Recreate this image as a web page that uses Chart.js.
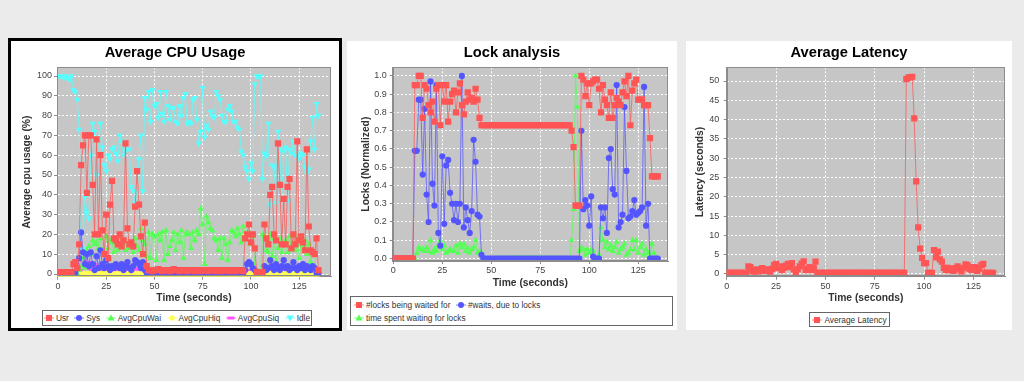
<!DOCTYPE html>
<html><head><meta charset="utf-8">
<script src="https://cdn.jsdelivr.net/npm/chart.js@4.4.1/dist/chart.umd.min.js"></script>
<style>
html,body{margin:0;padding:0;}
body{width:1024px;height:381px;background:#ebebeb;position:relative;overflow:hidden;font-family:'Liberation Sans',Arial,sans-serif;}
.panel{position:absolute;background:#fff;box-sizing:border-box;}
canvas{position:absolute;}
.legend{position:absolute;box-sizing:border-box;border:1px solid #666;background:#fff;font-size:8.3px;color:#333;}
.legend .row{display:flex;align-items:center;height:13.5px;}
.legend .item{display:flex;align-items:center;white-space:nowrap;margin-right:5.5px;}
.legend .item:last-child{margin-right:0;}
.legend svg{margin-right:2px;display:block;}
</style></head><body>
<div class="panel" style="left:8px;top:38px;width:334px;height:293px;border:3px solid #000;"></div>
<div class="panel" style="left:347px;top:41px;width:330px;height:289px;"></div>
<div class="panel" style="left:686px;top:41px;width:326px;height:289px;"></div>
<canvas id="cpu" width="328" height="264" style="left:11px;top:41px;width:328px;height:264px;"></canvas>
<canvas id="lock" width="328" height="253" style="left:348px;top:41px;width:328px;height:253px;"></canvas>
<canvas id="lat" width="324" height="264" style="left:687px;top:41px;width:324px;height:264px;"></canvas>
<div id="legCpu" class="legend" style="left:42px;top:310px;width:270px;height:16px;"></div>
<div id="legLock" class="legend" style="left:350px;top:296px;width:323px;height:30px;padding:1px 0 0 3px;"></div>
<div id="legLat" class="legend" style="left:809px;top:312px;width:81px;height:15px;"></div>
<script>
// ---------------- DATA ----------------
const timeSec = [0,1,2,3,4,5,6,7,8,9,10,11,12,13,14,15,16,17,18,19,20,21,22,23,24,25,26,27,28,29,30,31,32,33,34,35,36,37,38,39,40,41,42,43,44,45,46,47,48,49,50,51,52,53,54,55,56,57,58,59,60,61,62,63,64,65,66,67,68,69,70,71,72,73,74,75,76,77,78,79,80,81,82,83,84,85,86,87,88,89,90,91,92,93,94,95,96,97,98,99,100,101,102,103,104,105,106,107,108,109,110,111,112,113,114,115,116,117,118,119,120,121,122,123,124,125,126,127,128,129,130,131,132,133,134,135];
const timeTicks = [0,25,50,75,100,125];

// Average CPU Usage (%)
const cpuSeriesNames = ['Usr','Sys','AvgCpuWai','AvgCpuHiq','AvgCpuSiq','Idle'];
const cpuUsr = [1,1,1,1,1,1,1,1,
 5,6,3,15,55,65,70,41,70,70,45,20,68,20,60,22,10,30,8,35,47,18,17,15,20,14,17,66,23,15,16,14,34,52,35,19,10,26,4,
 2,2,1.5,2,2,2.5,2,1.5,2,2, 2,1.5,2,2.5,2,2,1.5,2,2,2, 1.5,2,2,2,1.5,2,2,1.5,2,2, 2,1.5,2,2,2,1.5,2,2,1.5,2, 2,2,1.5,2,2,1.5,2,2,2,1.5,
 18,20,25,16,20,13,1,1,1,1,25,18,15,40,44,20,17,66,45,15,38,15,44,48,13,20,15,67,17,19,16,12,63,24,12,11,10,18,2];
const cpuSys = [0.5,0.5,0.5,0.5,0.5,0.5,0.5,0.5,0.5,0.5,
 3,8,21,11,5,10,4,11,5,2, 9,3,12,5,3,7,4,2,4,3, 5,4,3,5,2,4,6,3,2,4, 7,6,5,3,6,2,
 0.5,0.5,0.5,0.5,0.5,0.5,0.5,0.5,0.5,0.5, 0.5,0.5,0.5,0.5,0.5,0.5,0.5,0.5,0.5,0.5, 0.5,0.5,0.5,0.5,0.5,0.5,0.5,0.5,0.5,0.5, 0.5,0.5,0.5,0.5,0.5,0.5,0.5,0.5,0.5,0.5, 0.5,0.5,0.5,0.5,0.5,0.5,0.5,0.5,0.5,0.5, 0.5,
 2,5,6,5,3,2,0.5,0.5,0.5,0.5, 4,2,3,7,4,2,5,3,2,4, 7,3,4,2,3,6,3,2,4,3, 5,2,4,3,2,4,3,0.5,0.5];
const cpuWai = [0,0,0,0,0,0,0,0,0,0,0,
 2,4,8,3,12,14,10,17,15,16, 13,18,12,10,19,13,17,16,11,17, 12,14,18,15,12,16,13,15,11,18, 14,12,23,17,15,
 9,21,8,20,19,7,20,17,21,7, 22,10,14,17,21,12,20,16,22,8, 20,21,20,13,21,17,22,20,33,25, 5,29,26,23,22,18,17,12,18,8, 18,15,7,16,22,21,19,23,20,16, 24,
 18,21,20,15,19,3,1,1,1,20, 19,12,11,20,9,18,6,13,18,11, 15,17,11,19,13,16,12,19,8,15, 14,17,10,15,6,12,11,0,0];
const cpuHiq = [0,0,0,0,0,0,0,0,0,0, 0,0,0,0,0,0,0,0,0,0, 0,0,0,0,0,0,0,0,0,0, 0,0,0,0,0,0,0,0,0,0,
 0,0,0,0,0,0,0,0,0,0, 0,0,0,0,0,0,0,0,0,0, 0,0,0,0,0,0,0,0,0,0, 0,0,0,0,0,0,0,0,0,0,
 0,0,0,0,0,0,0,0,0,0, 0,0,0,0,0,0,0,0,0,0, 0,0,0,0,0,0,0,0,0,0, 0,0,0,0,0,0,0,0,0,0,
 0,0,0,0,0,0,0,0,0,0, 0,0,0,0,0,0];
const cpuSiq = [0,0,0,0,0,0,0,0,0,0,
 1,2,5,7,8,3,6,4,2,5, 1,3,2,4,1,3,2,1,3,2, 1,4,2,1,3,5,2,1,3,2, 1,3,2,1,2,1,
 0,0,0,0,0,0,0,0,0,0, 0,0,0,0,0,0,0,0,0,0, 0,0,0,0,0,0,0,0,0,0, 0,0,0,0,0,0,0,0,0,0, 0,0,0,0,0,0,0,0,0,0, 0,
 1,2,1,2,1,0,0,0,0,0, 1,3,2,1,2,3,1,2,1,2, 3,1,2,1,2,3,1,2,1,2, 1,3,2,1,2,1,2,0,0];
const cpuIdle = [100,100,100,99,100,99,98,100,93,92,
 88,73,14,13,39,31,28,60,76,72,
 50,68,76,64,55,52,60,58,63,64,
 61,57,70,67,60,62,63,63,44,42,
 36,41,58,70,42,89,83,92,77,93,
 85,86,79,92,81,77,92,85,78,84,
 84,77,76,85,80,89,91,76,77,76,
 88,89,78,66,72,94,69,75,73,82,
 80,79,92,90,88,80,77,77,83,85,
 82,77,77,74,73,62,60,54,52,48,
 56,52,96,100,100,100,48,61,60,76,
 35,55,54,36,72,63,38,62,64,37,
 63,61,67,60,60,58,61,60,54,51,
 53,67,79,63,86,80];
const cpuYTicks = [0,10,20,30,40,50,60,70,80,90,100];

// Lock analysis (normalized)
const lockSeriesNames = ['#locks being waited for','#waits, due to locks','time spent waiting for locks'];
const lockWaited = [0,0,0,0,0,0,0,0,0,0,0,
 0.95,0.95,1.0,1.0,0.77,0.95,0.93,0.84,0.80,0.86, 0.75,0.93,0.95,0.73,0.95,0.86,0.95,0.75,0.86,0.90, 0.92,0.80,0.91,0.96,0.84,0.79,0.86,0.91,0.87,0.88, 0.86,0.93,0.87,0.77,
 0.73,0.73,0.73,0.73,0.73,0.73,0.73,0.73,0.73,0.73, 0.73,0.73,0.73,0.73,0.73,0.73,0.73,0.73,0.73,0.73, 0.73,0.73,0.73,0.73,0.73,0.73,0.73,0.73,0.73,0.73, 0.73,0.73,0.73,0.73,0.73,0.73,0.73,0.73,0.73,0.73, 0.73,0.73,0.73,0.73,0.73,0.73,
 0.70,0.61,0.29,0.29,0.29,1.0,0.98,0.89,0.96,0.84, 0.96,0.97,0.98,0.98,0.93,0.80,0.95,0.87,0.84,0.77, 0.91,0.77,0.84,0.88,0.86,0.84,0.91,0.97,0.89,1.0, 0.73,0.92,0.96,0.98,0.87,0.87,0.87,0.84,0.84,0.84, 0.66,0.45,0.45,0.45,0.45];
const lockWaits = [0,0,0,0,0,0,0,0,0,0,0,
 0.59,0.59,0.87,0.87,0.46,0.82,0.35,0.20,0.97,0.41, 0.29,0.95,0.14,0.07,0.56,0.19,0.51,0.54,0.36,0.30, 0.21,0.30,0.20,0.30,1.0,0.17,0.28,0.21,0.14,0.26, 0.65,0.53,0.24,0.23,0.02,
 0,0,0,0,0,0,0,0,0,0, 0,0,0,0,0,0,0,0,0,0, 0,0,0,0,0,0,0,0,0,0, 0,0,0,0,0,0,0,0,0,0, 0,0,0,0,0,0,0,0,0,
 0,0.70,0.27,0.32,0.29,0.18,0.34,0.01,0,0, 0,0.28,0.22,0.28,0.14,0.55,0.60,0.38,0.35,0.95, 0.17,0.20,0.24,0.83,0.48,0.22,0.23,0.26,0.32,0.24, 0.25,0.26,0.28,0.94,0.18,0.30,0,0,0,0, 0];
const lockTime = [0,0,0,0,0,0,0,0,0,0,0,
 0.0,0.03,0.06,0.05,0.05,0.04,0.06,0.04,0.10,0.03, 0.05,0.04,0.07,0.10,0.05,0.07,0.03,0.04,0.05,0.04, 0.04,0.07,0.03,0.08,0.06,0.08,0.04,0.06,0.03,0.05, 0.06,0.10,0.03,0.04,0.03,
 0,0,0,0,0,0,0,0,0,0, 0,0,0,0,0,0,0,0,0,0, 0,0,0,0,0,0,0,0,0,0, 0,0,0,0,0,0,0,0,0,0, 0,0,0,0,0,
 0.10,0.27,1.0,0.83,0.04,0.06,0.05,0.02,0.05,0.03, 0.05,0.04,0,0,0.02,0.17,0.10,0.06,0.09,0.05, 0.07,0.04,0.06,0.09,0.03,0.05,0.06,0.08,0.02,0.03, 0.05,0.10,0.05,0.10,0.03,0.06,0.08,0.02,0.05,0.03, 0.01,0.08,0.03,0,0];
const lockYTicks = [0,0.1,0.2,0.3,0.4,0.5,0.6,0.7,0.8,0.9,1.0];

// Average Latency (seconds)
const latSeriesNames = ['Average Latency'];
const latency = [0.3,0.3,0.3,0.3,0.3,0.3,0.3,0.3,0.3,0.3,0.3,
 2.0,1.8,0.8,0.6,1.2,0.7,1.0,1.5,0.8,1.2, 1.0,0.6,1.3,2.3,2.6,1.5,2.0,1.0,1.6,2.2, 2.6,1.8,2.8,1.2,0.5,1.2,2.0,2.7,3.3,1.0, 1.4,1.8,1.0,1.5,3.2,
 0.3,0.3,0.3,0.3,0.3,0.3,0.3,0.3,0.3,0.3, 0.3,0.3,0.3,0.3,0.3,0.3,0.3,0.3,0.3,0.3, 0.3,0.3,0.3,0.3,0.3,0.3,0.3,0.3,0.3,0.3, 0.3,0.3,0.3,0.3,0.3,0.3,0.3,0.3,0.3,0.3, 0.3,0.3,0.3,0.3,0.3,
 50.5,50.9,51.0,51.1,40.3,24.0,12.1,6.6,4.2,2.8, 2.8,0.3,0.3,0.3,6.2,4.3,5.8,3.8,3.2,1.6, 1.0,1.6,1.0,1.4,0.8,1.5,2.0,1.2,0.7,1.6, 2.5,2.3,1.3,1.0,1.8,1.7,0.8,1.4,2.3,2.6, 0.3,0.3,0.3,0.3,0.3];
const latYTicks = [0,5,10,15,20,25,30,35,40,45,50];

// ---------------- RENDERING ----------------
const FONT = "'Liberation Sans', Arial, sans-serif";
Chart.defaults.font.family = FONT;

const COL = {
  red: [255,85,85], blue: [85,85,255], green: [85,255,85],
  yellow: [255,255,85], magenta: [255,85,255], cyan: [85,255,255]
};
const rgba = (c, a) => `rgba(${c[0]},${c[1]},${c[2]},${a})`;

const hrectImg = (() => { const c = document.createElement('canvas'); c.width = 7; c.height = 3;
  const x = c.getContext('2d'); x.fillStyle = rgba(COL.magenta,1); x.fillRect(0,0,7,3); return c; })();

const SHAPES = {
  rect: {style: 'rect', r: 4.4, rot: 0},
  circle: {style: 'circle', r: 3.1, rot: 0},
  triangle: {style: 'triangle', r: 3.6, rot: 0},
  diamond: {style: 'rectRot', r: 3.6, rot: 0},
  hrect: {style: hrectImg, r: 3, rot: 0},
  triangleDown: {style: 'triangle', r: 3.6, rot: 180}
};

function ds(label, values, color, shape) {
  const s = SHAPES[shape];
  return {
    label, data: timeSec.map((t, i) => ({x: t, y: values[i]})),
    borderColor: rgba(color, 0.75), backgroundColor: rgba(color, 1),
    borderWidth: 1, tension: 0, fill: false,
    pointStyle: s.style, pointRadius: s.r, pointRotation: s.rot,
    pointBackgroundColor: rgba(color, 1), pointBorderColor: rgba(color, 1), pointBorderWidth: 0,
    _shape: shape, _color: color
  };
}

const plotFrame = {
  id: 'plotFrame',
  beforeDraw(chart) {
    const a = chart.chartArea, c = chart.ctx;
    c.save(); c.fillStyle = '#c6c6c6';
    c.fillRect(a.left, a.top, a.right - a.left, a.bottom - a.top); c.restore();
  },
  afterDraw(chart) {
    const a = chart.chartArea, c = chart.ctx;
    c.save(); c.strokeStyle = '#8c8c8c'; c.lineWidth = 1;
    c.strokeRect(Math.round(a.left) + 0.5, Math.round(a.top) + 0.5, Math.round(a.right - a.left) - 1, Math.round(a.bottom - a.top) - 1);
    c.restore();
  }
};

function makeChart(id, cfg) {
  const gridCommon = { color: '#ffffff', lineWidth: 1, drawTicks: true, tickLength: 3, tickColor: '#8c8c8c', tickBorderDash: [] };
  const borderCommon = { display: true, color: '#8c8c8c', dash: [2, 2] };
  return new Chart(document.getElementById(id), {
    type: 'line',
    data: { datasets: cfg.datasets },
    plugins: [plotFrame],
    options: {
      responsive: false, animation: false, devicePixelRatio: 1, events: [],
      layout: { padding: 0 },
      plugins: {
        legend: { display: false }, tooltip: { enabled: false },
        title: { display: true, text: cfg.title, color: '#000', font: { size: 14.7, weight: 'bold' }, padding: { top: 3, bottom: 5.66 } }
      },
      scales: {
        x: {
          type: 'linear', min: cfg.xMin, max: cfg.xMax,
          afterBuildTicks: s => { s.ticks = timeTicks.map(v => ({ value: v })); },
          afterFit: s => { s.height = cfg.xHeight; },
          ticks: { color: '#444', font: { size: 9 }, padding: cfg.xTickPad, maxRotation: 0, autoSkip: false, callback: v => String(v) },
          grid: gridCommon, border: borderCommon,
          title: { display: true, text: 'Time (seconds)', color: '#333', font: { size: 10.3, weight: 'bold' }, padding: { top: 0, bottom: cfg.xTitlePad } }
        },
        y: {
          type: 'linear', min: cfg.yMin, max: cfg.yMax,
          afterBuildTicks: s => { s.ticks = cfg.yTicks.map(v => ({ value: v })); },
          afterFit: s => { s.width = cfg.yWidth; },
          ticks: { color: '#444', font: { size: 9 }, padding: cfg.yTickPad, autoSkip: false, callback: cfg.yFmt },
          grid: gridCommon, border: borderCommon,
          title: { display: true, text: cfg.yTitle, color: '#333', font: { size: 10.3, weight: 'bold' }, padding: { top: cfg.yTitlePad, bottom: 0 } }
        },
        yPad: {
          position: 'right', display: true, grid: { display: false, drawTicks: false },
          border: { display: false }, ticks: { display: false },
          afterFit: s => { s.width = cfg.padRight; }
        }
      }
    }
  });
}

function markerSvg(shape, color) {
  const c = rgba(color, 1), l = rgba(color, 0.75);
  let m = '';
  if (shape === 'rect') m = `<rect x="2" y="1" width="6" height="6" fill="${c}"/>`;
  else if (shape === 'circle') m = `<circle cx="5" cy="4" r="3" fill="${c}"/>`;
  else if (shape === 'triangle') m = `<polygon points="5,0.5 8.5,6.5 1.5,6.5" fill="${c}"/>`;
  else if (shape === 'triangleDown') m = `<polygon points="1.5,1.5 8.5,1.5 5,7.5" fill="${c}"/>`;
  else if (shape === 'diamond') m = `<polygon points="5,0.5 8.5,4 5,7.5 1.5,4" fill="${c}"/>`;
  else if (shape === 'hrect') m = `<rect x="1.5" y="2.5" width="7" height="3" fill="${c}"/>`;
  return `<svg width="10" height="8" viewBox="0 0 10 8"><line x1="0" y1="4" x2="10" y2="4" stroke="${l}" stroke-width="1"/>${m}</svg>`;
}

function buildLegend(elId, datasets, rows, justify) {
  const el = document.getElementById(elId);
  let html = '';
  rows.forEach(idxs => {
    html += `<div class="row" style="justify-content:${justify}">`;
    idxs.forEach(i => {
      const d = datasets[i];
      html += `<div class="item">${markerSvg(d._shape, d._color)}<span>${d.label}</span></div>`;
    });
    html += '</div>';
  });
  el.innerHTML = html;
}

// CPU chart
const cpuDatasets = [
  ds(cpuSeriesNames[0], cpuUsr, COL.red, 'rect'),
  ds(cpuSeriesNames[1], cpuSys, COL.blue, 'circle'),
  ds(cpuSeriesNames[2], cpuWai, COL.green, 'triangle'),
  ds(cpuSeriesNames[3], cpuHiq, COL.yellow, 'diamond'),
  ds(cpuSeriesNames[4], cpuSiq, COL.magenta, 'hrect'),
  ds(cpuSeriesNames[5], cpuIdle, COL.cyan, 'triangleDown')
];
makeChart('cpu', {
  title: 'Average CPU Usage', datasets: cpuDatasets,
  xMin: -0.5, xMax: 141.5, xHeight: 28.3, xTickPad: 1, xTitlePad: 1,
  yMin: -1.36, yMax: 104.4, yTicks: cpuYTicks, yWidth: 46, yTickPad: 2, yTitlePad: 10,
  yTitle: 'Average cpu usage (%)', yFmt: v => String(v), padRight: 8
});
buildLegend('legCpu', cpuDatasets, [[0,1,2,3,4,5]], 'center');

// Lock chart
const lockDatasets = [
  ds(lockSeriesNames[0], lockWaited, COL.red, 'rect'),
  ds(lockSeriesNames[1], lockWaits, COL.blue, 'circle'),
  ds(lockSeriesNames[2], lockTime, COL.green, 'triangle')
];
makeChart('lock', {
  title: 'Lock analysis', datasets: lockDatasets,
  xMin: -0.3, xMax: 140.2, xHeight: 33, xTickPad: 1, xTitlePad: 4.8,
  yMin: -0.0137, yMax: 1.0475, yTicks: lockYTicks, yWidth: 44.7, yTickPad: 3, yTitlePad: 11.8,
  yTitle: 'Locks (Normalized)', yFmt: v => Number(v).toFixed(1), padRight: 8
});
buildLegend('legLock', lockDatasets, [[0,1],[2]], 'flex-start');

// Latency chart
const latDatasets = [ ds(latSeriesNames[0], latency, COL.red, 'rect') ];
makeChart('lat', {
  title: 'Average Latency', datasets: latDatasets,
  xMin: 0, xMax: 141, xHeight: 28.3, xTickPad: 1, xTitlePad: 1,
  yMin: -0.7, yMax: 53.55, yTicks: latYTicks, yWidth: 39.7, yTickPad: 4.4, yTitlePad: 6.8,
  yTitle: 'Latency (seconds)', yFmt: v => String(v), padRight: 6
});
buildLegend('legLat', latDatasets, [[0]], 'center');
</script>
</body></html>
